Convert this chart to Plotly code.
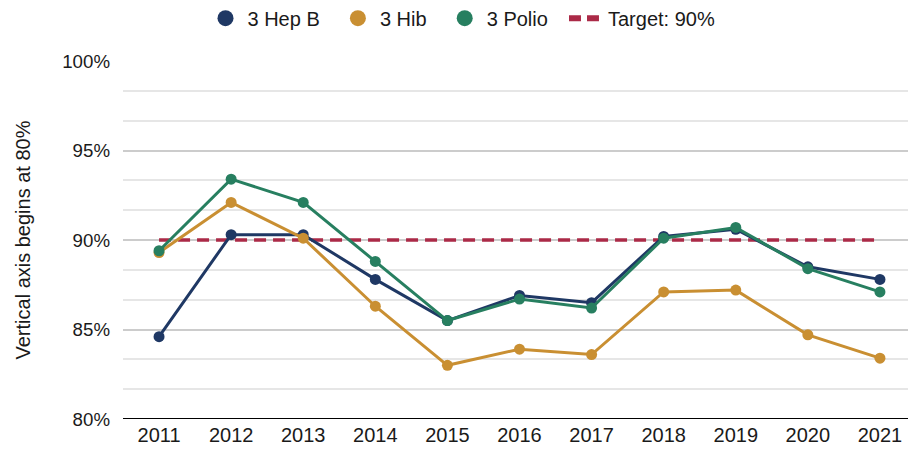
import plotly.graph_objects as go

years = ["2011", "2012", "2013", "2014", "2015", "2016", "2017", "2018", "2019", "2020", "2021"]
hep_b = [84.6, 90.3, 90.3, 87.8, 85.5, 86.9, 86.5, 90.2, 90.6, 88.5, 87.8]
hib = [89.3, 92.1, 90.1, 86.3, 83.0, 83.9, 83.6, 87.1, 87.2, 84.7, 83.4]
polio = [89.4, 93.4, 92.1, 88.8, 85.5, 86.7, 86.2, 90.1, 90.7, 88.4, 87.1]
target = [90] * len(years)

series = [
    ("3 Hep B", hep_b, "#1f3864"),
    ("3 Hib", hib, "#c98f32"),
    ("3 Polio", polio, "#277f60"),
]
target_color = "#ab2a47"
font = "Liberation Sans, Arial, sans-serif"
pad = "\u00a0\u00a0"

fig = go.Figure()

fig.add_trace(go.Scatter(x=years, y=[v / 100 for v in target], mode="lines",
                         line=dict(color=target_color, width=3.5, dash="12px,7px"),
                         showlegend=False, hoverinfo="skip"))

for name, vals, col in series:
    fig.add_trace(go.Scatter(x=years, y=[v / 100 for v in vals], mode="lines+markers", name=name,
                             line=dict(color=col, width=3), marker=dict(color=col, size=11),
                             showlegend=False))

# legend entries
for name, vals, col in series:
    fig.add_trace(go.Scatter(x=[None], y=[None], mode="markers", name=name + pad,
                             marker=dict(color=col, size=22)))
fig.add_trace(go.Scatter(x=[None], y=[None], mode="lines", name="Target: 90%",
                         line=dict(color=target_color, width=6, dash="12px,6px")))

# body has an 8px margin in the page, so the figure is shrunk by that much
fig.update_layout(
    width=908, height=443,
    margin=dict(l=115, r=0, t=53, b=32),
    plot_bgcolor="white", paper_bgcolor="white",
    font=dict(family=font, size=18.7, color="#1a1a1a"),
    legend=dict(orientation="h", x=0.5, xanchor="center", xref="container",
                y=0.977, yanchor="middle", yref="container",
                font=dict(size=20), itemwidth=34),
    xaxis=dict(type="category", range=[-0.5, 10.5], showgrid=False, ticks="",
               tickfont=dict(size=20), automargin=False, ticklabelstandoff=2),
    yaxis=dict(range=[0.8, 1.0], dtick=0.05, tickformat=".0%", showgrid=True,
               gridcolor="#cccccc", gridwidth=1.5, zeroline=False,
               showline=False, ticks="", tickfont=dict(size=18.7), automargin=False,
               ticklabelstandoff=12,
               title=dict(text="Vertical axis begins at 80%", font=dict(size=20), standoff=26),
               minor=dict(dtick=0.05 / 3, showgrid=True, gridcolor="#e6e6e6", gridwidth=1.5)),
)
fig.add_shape(type="line", xref="paper", yref="y", x0=0, x1=1, y0=0.8, y1=0.8,
              line=dict(color="black", width=2))

fig.write_html("out.html")
